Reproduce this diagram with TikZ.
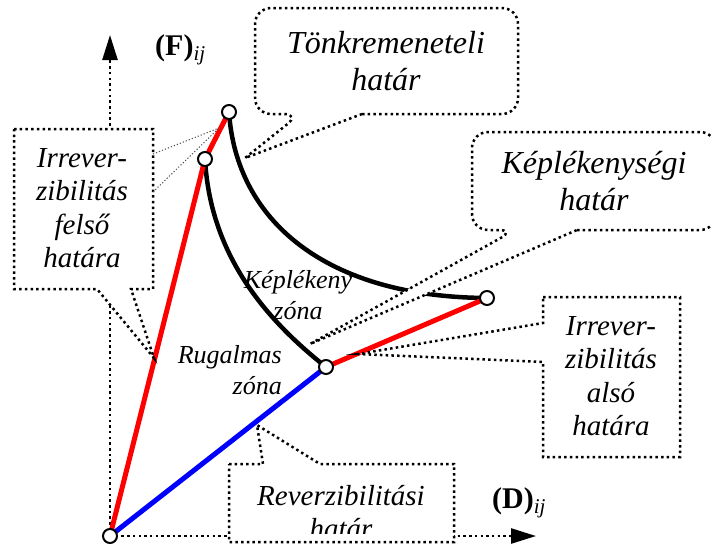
\documentclass[tikz,border=0pt]{standalone}
\usepackage{fontspec}
\setmainfont{Liberation Serif}
\usetikzlibrary{arrows.meta}

\begin{document}
\begin{tikzpicture}[x=1pt,y=-1pt,
  axis/.style={line width=2.5pt,dash pattern=on 2.5pt off 3.2pt,-{Triangle[length=25pt,width=15pt]}},
  callout/.style={line width=2.5pt,dash pattern=on 2.5pt off 3.2pt,fill=white},
  hint/.style={line width=1pt,dash pattern=on 1.2pt off 2pt,black!70},
  bound/.style={line width=5pt},
  curve/.style={line width=4.5pt},
  pt/.style={circle,draw,line width=2pt,fill=white,inner sep=0pt,minimum size=14pt},
  big/.style={font=\fontsize{32}{37}\selectfont\itshape,align=center,inner sep=0pt},
  note/.style={font=\fontsize{29}{33.3}\selectfont\itshape,align=center,inner sep=0pt},
  zone/.style={font=\fontsize{26}{31}\selectfont\itshape,inner sep=0pt},
  axlabel/.style={font=\fontsize{30}{36}\selectfont,inner sep=0pt,anchor=base west}]
\useasboundingbox (0,0) rectangle (711,544);

% corner points of the diagram
\coordinate (O) at (110,536);
\coordinate (U) at (205,159);
\coordinate (T) at (229,112);
\coordinate (M) at (326,367);
\coordinate (R) at (487,298);
\coordinate (Utip) at (219,128);

% axes
\draw[axis] (O) -- (110,35);
\draw[axis] (O) -- (536,536);

% limit curves
\draw[curve] (T) .. controls (236,220) and (325,297) .. (R);
\draw[curve] (U) .. controls (210,250) and (260,315) .. (M);

% limit lines
\draw[bound,red] (O) -- (U) -- (T);
\draw[bound,blue] (O) -- (M);
\draw[bound,red] (M) -- (R);

% callouts
\draw[callout] (14,129) -- (153,129) -- (153,289) -- (131,289) -- (154,358) -- (97,289) -- (14,289) -- cycle;
\draw[callout] (543,297) -- (680,297) -- (680,457) -- (543,457) -- (543,362) -- (358,354) -- (543,323) -- cycle;
\draw[callout] (229,464) -- (263,464) -- (257,425) -- (320,464) -- (454,464) -- (454,542) -- (229,542) -- cycle;
\draw[callout,rounded corners=16pt] (362,114) -- (518,114) -- (518,8) -- (255,8) -- (255,114) -- (300,114) [sharp corners] -- (245,158) -- cycle;
\draw[callout,rounded corners=16pt] (577,230) -- (716,230) -- (716,132) -- (472,132) -- (472,230) -- (515,230) [sharp corners] -- (310,344) -- cycle;
\draw[hint] (153,154) -- (Utip);
\draw[hint] (153,192) -- (Utip);

% points
\foreach \p in {O,U,T,M,R}
  \node[pt] (p\p) at (\p) {};

% texts
\node[big] (fail) at (386,61) {Tönkremeneteli\\határ};
\node[big] (plast) at (594,181) {Képlékenységi\\határ};
\node[note] (upper) at (82,208) {Irrever-\\zibilitás\\felső\\határa};
\node[note] (lower) at (611,376) {Irrever-\\zibilitás\\alsó\\határa};
\begin{scope}
  \clip (229,464) rectangle (454,533);
  \node[note] (rev) at (341,512) {Reverzibilitási\\határ};
\end{scope}
\node[zone,align=center] (pzone) at (298,295) {Képlékeny\\zóna};
\node[zone,align=right,anchor=east] (ezone) at (282,370) {Rugalmas\\zóna\hspace{5pt}};
\node[axlabel] (F) at (155,55) {\textbf{(F)}\textsubscript{\itshape ij}};
\node[axlabel] (D) at (492,508) {\textbf{(D)}\textsubscript{\itshape ij}};
\end{tikzpicture}
\end{document}
